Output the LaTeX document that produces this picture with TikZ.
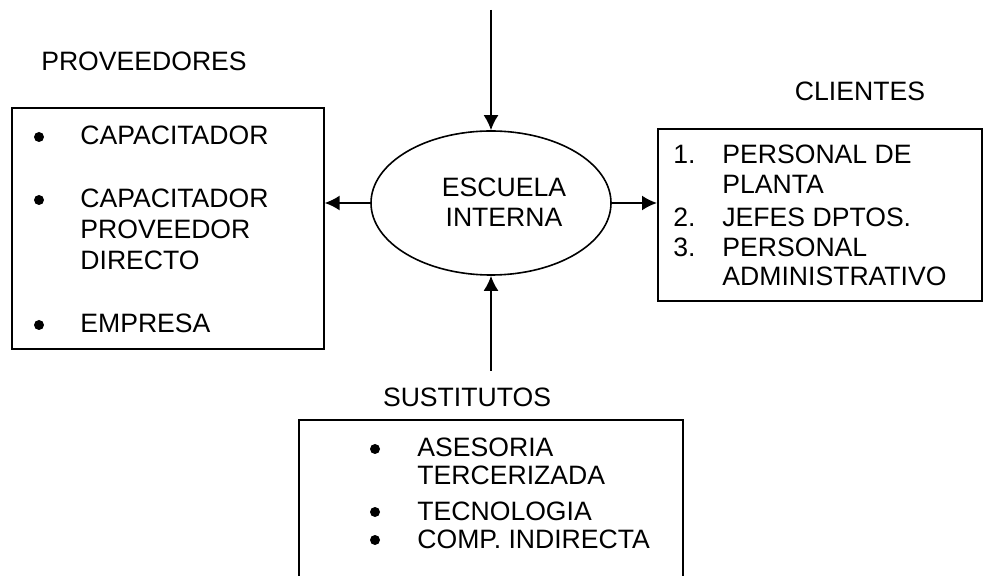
\documentclass[tikz,border=0pt]{standalone}
\usepackage{fontspec}
\setmainfont{Liberation Sans}
\usetikzlibrary{arrows.meta}
\usetikzlibrary{shapes.geometric}
\usetikzlibrary{positioning}
\tikzset{box/.style = {draw, line width=0.8pt, anchor=north west, inner sep=0}}
\tikzset{txt/.style = {anchor=base west, inner sep=0, font=\fontsize{13.3}{15}\selectfont}}
\tikzset{lbl/.style = {inner sep=0, font=\fontsize{13.3}{15}\selectfont}}
\tikzset{bul/.style = {fill, circle, inner sep=0, minimum size=5pt}}
\tikzset{conn/.style = {-{Latex[length=7.5pt, width=7.5pt]}, line width=1pt}}

\begin{document}
\begin{tikzpicture}[x=0.5pt, y=-0.5pt]
      \useasboundingbox (0, 0) rectangle (984, 576);
      % centro
      \node [ellipse, draw, line width=0.8pt, minimum width=120pt, minimum height=72pt, inner sep=0]
            (ell) at (491, 203) {};
      \node [lbl, align=center] (etxt) at (504, 202) {ESCUELA\\INTERNA};
      % proveedores
      \node [lbl] (prov) at (144, 61) {PROVEEDORES};
      \node [box, minimum width=156pt, minimum height=120.5pt] (lbox) at (11, 107) {};
      \node [bul] (lb1) at (39, 137) {};
      \node [txt] (l1) at (80, 145) {CAPACITADOR};
      \node [bul] (lb2) at (39, 200) {};
      \node [txt] (l2) at (80, 208) {CAPACITADOR};
      \node [txt] (l3) at (80, 239) {PROVEEDOR};
      \node [txt] (l4) at (80, 270) {DIRECTO};
      \node [bul] (lb3) at (39, 325) {};
      \node [txt] (l5) at (80, 333) {EMPRESA};
      % clientes
      \node [lbl] (cli) at (860, 91) {CLIENTES};
      \node [box, minimum width=162pt, minimum height=86pt] (rbox) at (657, 128) {};
      \node [txt] (rn1) at (673, 164) {1.};
      \node [txt] (r1) at (722, 164) {PERSONAL DE};
      \node [txt] (r2) at (722, 194) {PLANTA};
      \node [txt] (rn2) at (673, 227) {2.};
      \node [txt] (r3) at (722, 227) {JEFES DPTOS.};
      \node [txt] (rn3) at (673, 257) {3.};
      \node [txt] (r4) at (722, 257) {PERSONAL};
      \node [txt] (r5) at (722, 286) {ADMINISTRATIVO};
      % sustitutos
      \node [lbl] (sus) at (467, 397) {SUSTITUTOS};
      \node [box, minimum width=192pt, minimum height=82pt] (bbox) at (298, 419) {};
      \node [bul] (bb1) at (375, 449) {};
      \node [txt] (b1) at (417, 457) {ASESORIA};
      \node [txt] (b2) at (417, 485) {TERCERIZADA};
      \node [bul] (bb2) at (375, 512) {};
      \node [txt] (b3) at (417, 520) {TECNOLOGIA};
      \node [bul] (bb3) at (375, 540) {};
      \node [txt] (b4) at (417, 548) {COMP. INDIRECTA};
      % flechas
      \coordinate (top) at (491, 10);
      \coordinate (bot) at (491, 371);
      \draw [conn] (top) -- (ell.north);
      \draw [conn] (bot) -- (ell.south);
      \draw [conn] (ell.west) -- (ell.west -| lbox.east);
      \draw [conn] (ell.east) -- (ell.east -| rbox.west);
    \end{tikzpicture}
\end{document}
